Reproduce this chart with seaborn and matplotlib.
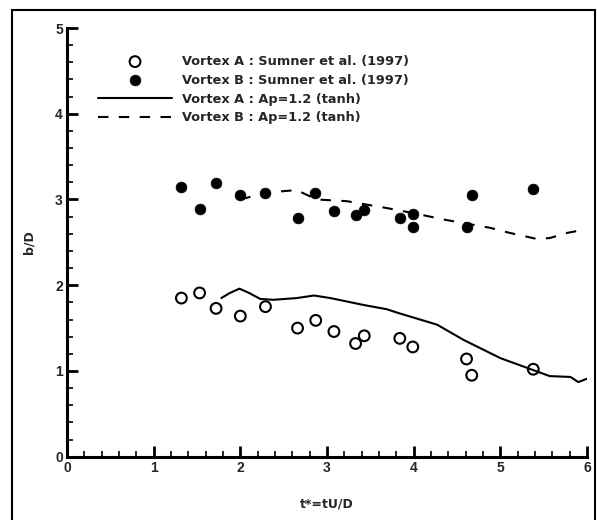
import matplotlib
matplotlib.use("Agg")
import matplotlib.pyplot as plt
import seaborn as sns
import numpy as np
import pandas as pd
from matplotlib.ticker import MultipleLocator
from matplotlib.patches import Rectangle

# ---- data ----
exp_a_t = [1.32, 1.53, 1.72, 2.00, 2.29, 2.66, 2.87, 3.08, 3.33, 3.43, 3.84, 3.99, 4.61, 4.67, 5.38]
exp_a_b = [1.85, 1.91, 1.73, 1.64, 1.75, 1.50, 1.59, 1.46, 1.32, 1.41, 1.38, 1.28, 1.14, 0.95, 1.02]

exp_b_t = [1.32, 1.53, 1.72, 2.00, 2.29, 2.66, 2.86, 3.08, 3.33, 3.43, 3.84, 3.99, 3.99, 4.61, 4.67, 5.38]
exp_b_b = [3.14, 2.89, 3.19, 3.05, 3.08, 2.78, 3.08, 2.87, 2.82, 2.88, 2.78, 2.83, 2.68, 2.68, 3.05, 3.12]

sim_a_t = [1.78, 1.88, 1.99, 2.10, 2.23, 2.38, 2.65, 2.85, 3.04, 3.42, 3.69, 3.81, 4.27, 4.58, 5.00, 5.38, 5.57, 5.81, 5.90, 6.00]
sim_a_b = [1.85, 1.91, 1.96, 1.91, 1.84, 1.83, 1.85, 1.88, 1.85, 1.77, 1.72, 1.68, 1.54, 1.36, 1.15, 1.01, 0.94, 0.93, 0.87, 0.91]

sim_b_t = [2.00, 2.30, 2.65, 2.88, 3.23, 3.69, 4.00, 4.38, 4.88, 5.11, 5.42, 5.57, 5.77, 5.98]
sim_b_b = [3.00, 3.08, 3.11, 3.00, 2.98, 2.90, 2.84, 2.76, 2.67, 2.61, 2.54, 2.55, 2.61, 2.65]

labels = ["Vortex A : Sumner et al. (1997)",
          "Vortex B : Sumner et al. (1997)",
          "Vortex A : Ap=1.2 (tanh)",
          "Vortex B : Ap=1.2 (tanh)"]
x_label = "t*=tU/D"
y_label = "b/D"

sns.set_theme(style="white")
plt.rcParams['font.family'] = ['Liberation Sans', 'DejaVu Sans']
plt.rcParams['font.weight'] = 'bold'

fig = plt.figure(figsize=(5.97, 5.20), dpi=100)
ax = fig.add_axes([67/597, 1-456.7/520, 520/597, 428.7/520])

sns.scatterplot(x=exp_a_t, y=exp_a_b, ax=ax, marker='o', s=60,
                facecolors='none', edgecolor='black', linewidth=1.5, label=labels[0])
sns.scatterplot(x=exp_b_t, y=exp_b_b, ax=ax, marker='o', s=60,
                color='black', edgecolor='black', linewidth=0.5, label=labels[1])
sns.lineplot(x=sim_a_t, y=sim_a_b, ax=ax, sort=False, estimator=None,
             color='black', linewidth=1.5, label=labels[2])
sns.lineplot(x=sim_b_t, y=sim_b_b, ax=ax, sort=False, estimator=None,
             color='black', linewidth=1.5, label=labels[3])
ax.lines[-1].set_dashes([5, 5])

ax.set_xlim(0, 6)
ax.set_ylim(0, 5)
ax.xaxis.set_major_locator(MultipleLocator(1))
ax.xaxis.set_minor_locator(MultipleLocator(0.2))
ax.yaxis.set_major_locator(MultipleLocator(1))
ax.yaxis.set_minor_locator(MultipleLocator(0.2))
ax.tick_params(which='major', direction='in', length=8, width=2, labelsize=10, pad=3,
               bottom=True, left=True, top=False, right=False, color='black')
ax.tick_params(which='minor', direction='in', length=4, width=1.2,
               bottom=True, left=True, top=False, right=False, color='black')
for lab in ax.get_xticklabels() + ax.get_yticklabels():
    lab.set_fontweight('bold')
for s in ['top', 'right']:
    ax.spines[s].set_visible(False)
for s in ['left', 'bottom']:
    ax.spines[s].set_linewidth(2.2)
    ax.spines[s].set_color('black')
ax.set_facecolor('none')

ax.set_xlabel(x_label, fontsize=9, fontweight='bold', labelpad=16,
              fontfamily='DejaVu Sans')
ax.set_ylabel(y_label, fontsize=9, fontweight='bold', labelpad=14,
              fontfamily='DejaVu Sans')

leg = ax.legend(loc='upper left', bbox_to_anchor=(0.06, 0.937), frameon=False,
                prop={'family': 'DejaVu Sans', 'weight': 'bold', 'size': 9.3},
                handlelength=5.7, handletextpad=0.78, labelspacing=0.45,
                borderpad=0, borderaxespad=0)

# outer frame
fig.patches.append(Rectangle((12/597, -0.02), (595-12)/597, 1.02 - 10/520,
                             transform=fig.transFigure, fill=False,
                             edgecolor='black', linewidth=1.5))

fig.savefig("out.png", dpi=100)
